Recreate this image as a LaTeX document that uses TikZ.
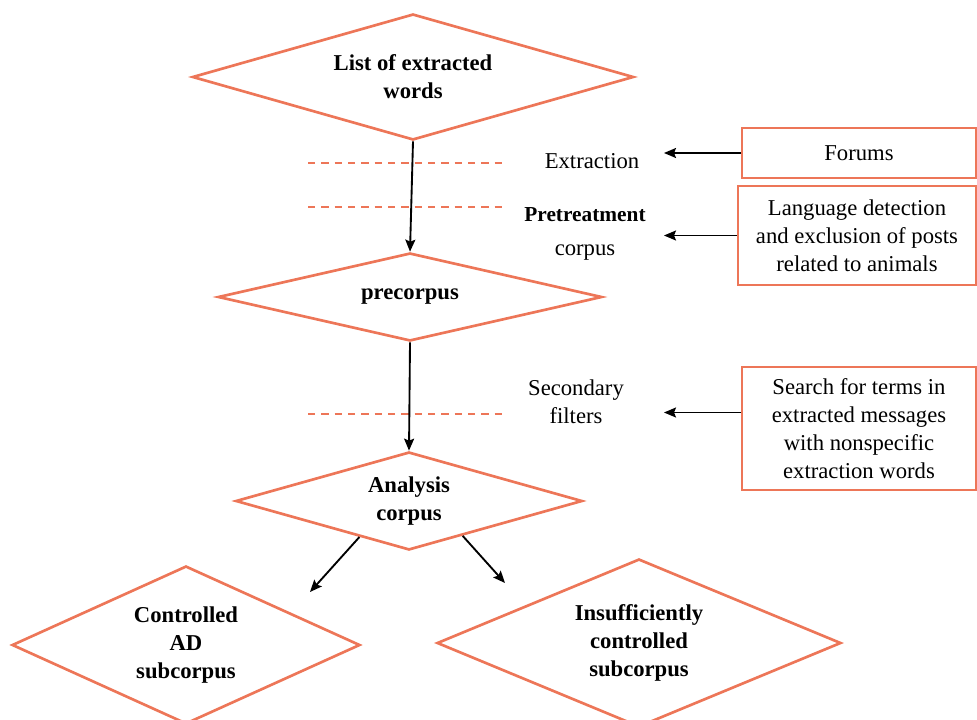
\documentclass[tikz,border=0pt]{standalone}
\usepackage{fontspec}
\setmainfont{Liberation Serif}
\usetikzlibrary{shapes.geometric,arrows.meta}
\definecolor{coral}{RGB}{237,118,88}
\begin{document}
\begin{tikzpicture}[x=0.75pt,y=-0.75pt,
    dia/.style={diamond, draw=coral, line width=2pt, inner sep=0pt, align=center,
        font=\fontsize{17}{21}\selectfont\bfseries},
    box/.style={rectangle, draw=coral, line width=1.4pt, inner sep=0pt, align=center,
        font=\fontsize{17}{21}\selectfont},
    lbl/.style={align=center, font=\fontsize{17}{21}\selectfont},
    arr/.style={-{Stealth[length=9pt,width=7.5pt,inset=1.5pt]}, line width=1.4pt},
    sep/.style={coral, line width=1.4pt, dash pattern=on 5.5pt off 4.5pt}]
    \useasboundingbox (0,0) rectangle (977,720);

    % Main chain of corpora
    \node[dia, minimum width=331pt, minimum height=94.5pt, shape aspect=3.5] (list) at (413,77) {List of extracted\\words};
    \node[dia, minimum width=288pt, minimum height=66pt, shape aspect=4.3] (pre) at (410,297) {precorpus};
    \node[dia, minimum width=260pt, minimum height=73.5pt, shape aspect=3.5] (ana) at (409,501) {Analysis\\corpus};
    \node[dia, minimum width=261pt, minimum height=118.5pt, shape aspect=2.2] (ctrl) at (186,645) {Controlled\\AD\\subcorpus};
    \node[dia, minimum width=303pt, minimum height=126pt, shape aspect=2.4] (insuf) at (639,643) {Insufficiently\\controlled\\subcorpus};

    % Step separators
    \draw[sep] (308,163) -- (503,163);
    \draw[sep] (308,207) -- (503,207);
    \draw[sep] (308,414) -- (503,414);

    % Step labels
    \node[lbl] (extr) at (592,161) {Extraction};
    \node[lbl] (pretr) at (585,234) {\textbf{\fontsize{16}{21}\selectfont Pretreatment}\\[5pt]corpus};
    \node[lbl] (second) at (576,402) {Secondary\\filters};

    % Sources and operations
    \node[box, minimum width=175.5pt, minimum height=37.5pt] (forums) at (859,153) {Forums};
    \node[box, minimum width=178.5pt, minimum height=74.25pt] (lang) at (857,235.5) {Language detection\\and exclusion of posts\\related to animals};
    \node[box, minimum width=175.5pt, minimum height=92.25pt] (search) at (859,428.5) {Search for terms in\\extracted messages\\with nonspecific\\extraction words};

    \coordinate (tip) at (664,0);
    \coordinate (c1) at (310,592);
    \coordinate (c2) at (505,583);

    \draw[arr] (list.south) -- (pre.north);
    \draw[arr] (pre.south) -- (ana.north);
    \draw[arr] (ana.216) -- (c1);
    \draw[arr] (ana.327) -- (c2);

    \draw[arr] (forums.west) -- (forums.west -| tip);
    \draw[arr] (lang.west) -- (lang.west -| tip);
    \draw[arr] ([yshift=12pt]search.west) -- ([yshift=12pt]search.west -| tip);
\end{tikzpicture}
\end{document}
